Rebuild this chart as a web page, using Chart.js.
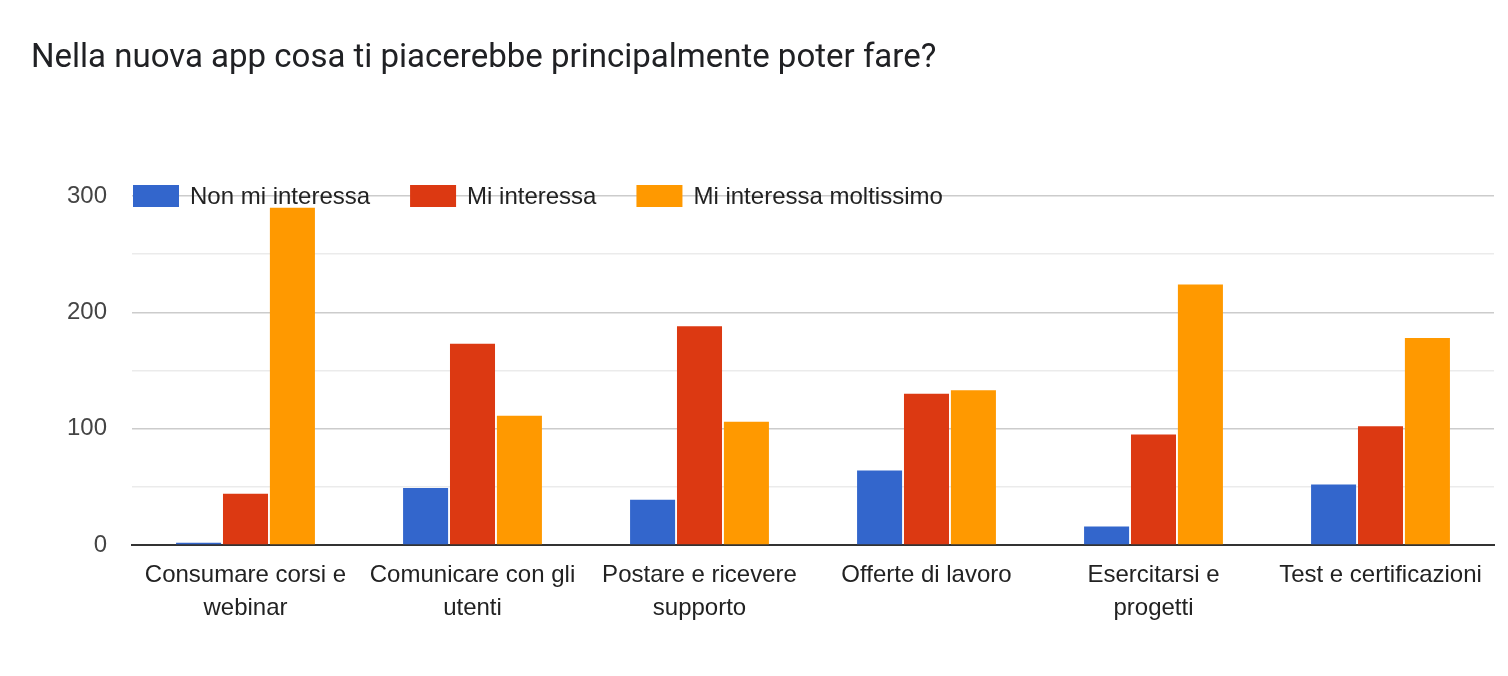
<!DOCTYPE html>
<html>
<head>
<meta charset="utf-8">
<script src="https://cdn.jsdelivr.net/npm/chart.js@4"></script>
<style>
  html, body { margin: 0; padding: 0; background: #fff; }
  #wrap { width: 1508px; height: 676px; position: relative; }
</style>
</head>
<body>
<div id="wrap"><canvas id="chart"></canvas></div>
<script>
const titleText = 'Nella nuova app cosa ti piacerebbe principalmente poter fare?';
const categories = [
    ['Consumare corsi e', 'webinar'],
    ['Comunicare con gli', 'utenti'],
    ['Postare e ricevere', 'supporto'],
    'Offerte di lavoro',
    ['Esercitarsi e', 'progetti'],
    'Test e certificazioni'
];
const seriesNames = ['Non mi interessa', 'Mi interessa', 'Mi interessa moltissimo'];
const seriesColors = ['#3366cc', '#dc3912', '#ff9900'];
const nonMiInteressa = [2, 49, 39, 64, 16, 52];
const miInteressa = [44, 173, 188, 130, 95, 102];
const moltissimo = [290, 111, 106, 133, 224, 178];
const yTicks = [0, 100, 200, 300];

const labelFont = '"Liberation Sans", Arial, sans-serif';

let ctx = document.getElementById('chart').getContext('2d');

// title + legend drawn by hand, legend sits inside the plot like the original
const headerPlugin = {
    id: 'header',
    afterDraw(chart) {
        let c = chart.ctx;
        c.save();
        c.fillStyle = '#202124';
        c.font = '33px Roboto';
        c.textBaseline = 'alphabetic';
        c.fillText(titleText, 31, 67);

        let x = chart.chartArea.left + 1;
        let y = chart.chartArea.top;
        c.font = '24px ' + labelFont;
        c.textBaseline = 'middle';
        seriesNames.forEach((name, i) => {
            c.fillStyle = seriesColors[i];
            c.fillRect(x, y - 11, 46, 22);
            x += 57;
            c.fillStyle = '#222';
            c.fillText(name, x, y + 1);
            x += c.measureText(name).width + 40;
        });
        c.restore();
    }
};

const chart = new Chart(ctx, {
    type: 'bar',
    data: {
        labels: categories,
        datasets: [
            { label: seriesNames[0], data: nonMiInteressa, backgroundColor: seriesColors[0] },
            { label: seriesNames[1], data: miInteressa, backgroundColor: seriesColors[1] },
            { label: seriesNames[2], data: moltissimo, backgroundColor: seriesColors[2] }
        ]
    },
    options: {
        responsive: true,
        maintainAspectRatio: false,
        animation: false,
        layout: { padding: { top: 196, right: 14, left: 0, bottom: 0 } },
        datasets: {
            bar: { categoryPercentage: 0.62, barPercentage: 0.96 }
        },
        plugins: {
            legend: { display: false },
            title: { display: false },
            tooltip: { enabled: false }
        },
        scales: {
            x: {
                afterFit(scale) { scale.height = 131; },
                grid: { display: false, drawTicks: false },
                border: { display: true, color: '#333', width: 2 },
                ticks: {
                    color: '#222',
                    padding: 14,
                    maxRotation: 0,
                    autoSkip: false,
                    font: { family: labelFont, size: 24, lineHeight: 1.375 }
                }
            },
            y: {
                min: 0,
                max: 300,
                afterFit(scale) { scale.width = 132; },
                border: { display: false },
                grid: {
                    drawTicks: false,
                    lineWidth: 1.5,
                    color: c => (c.tick && c.tick.value % 100 === 0) ? '#cccccc' : '#ebebeb'
                },
                ticks: {
                    stepSize: 50,
                    padding: 25,
                    color: '#444',
                    font: { family: labelFont, size: 24 },
                    callback: v => yTicks.includes(v) ? v : ''
                }
            }
        }
    },
    plugins: [headerPlugin]
});
</script>
</body>
</html>
